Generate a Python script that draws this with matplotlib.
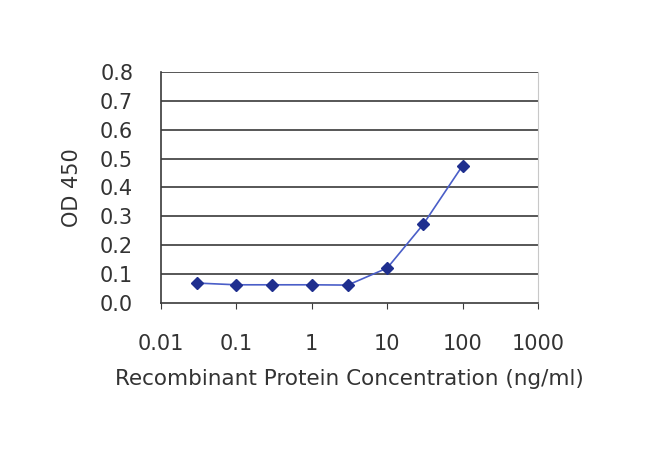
import numpy as np
import matplotlib.pyplot as plt

conc = [0.03, 0.1, 0.3, 1, 3, 10, 30, 100]
od450 = [0.069, 0.063, 0.063, 0.063, 0.062, 0.121, 0.272, 0.476]
xtick_vals = [0.01, 0.1, 1, 10, 100, 1000]
xtick_labels = ['0.01', '0.1', '1', '10', '100', '1000']
ytick_vals = np.arange(0, 0.81, 0.1)

plt.rcParams['font.family'] = ['DejaVu Sans']

fig = plt.figure(figsize=(6.5, 4.66), dpi=100)
ax = fig.add_axes([0.2477, 0.3498, 0.58, 0.4957])

for v in ytick_vals[1:]:
    ax.axhline(v, color='#3a3a3a', lw=1.2, zorder=1)

ax.plot(conc, od450, color='#4a5ec8', lw=1.2, marker='D', markersize=6,
        markerfacecolor='#1f2f8f', markeredgecolor='#1f2f8f', zorder=3)

ax.set_xscale('log')
ax.set_xlim(0.01, 1000)
ax.set_ylim(0, 0.8)
ax.set_xticks(xtick_vals)
ax.set_xticklabels(xtick_labels)
ax.minorticks_off()
ax.set_yticks(ytick_vals)
ax.set_yticklabels(['%.1f' % v for v in ytick_vals])

ax.tick_params(axis='x', direction='out', length=4, color='#3a3a3a',
               labelsize=15, labelcolor='#333333', pad=18)
ax.tick_params(axis='y', length=0, labelsize=15, labelcolor='#333333', pad=20)

ax.spines['top'].set_visible(False)
ax.spines['right'].set_color('#c8c8c8')
ax.spines['left'].set_color('#3a3a3a')
ax.spines['bottom'].set_color('#3a3a3a')
for s in ['left', 'bottom']:
    ax.spines[s].set_linewidth(1.2)

ax.set_xlabel('Recombinant Protein Concentration (ng/ml)', fontsize=15.5,
              color='#333333', labelpad=11)
ax.set_ylabel('OD 450', fontsize=15, color='#333333', labelpad=13)

plt.savefig('out.png', dpi=100)
